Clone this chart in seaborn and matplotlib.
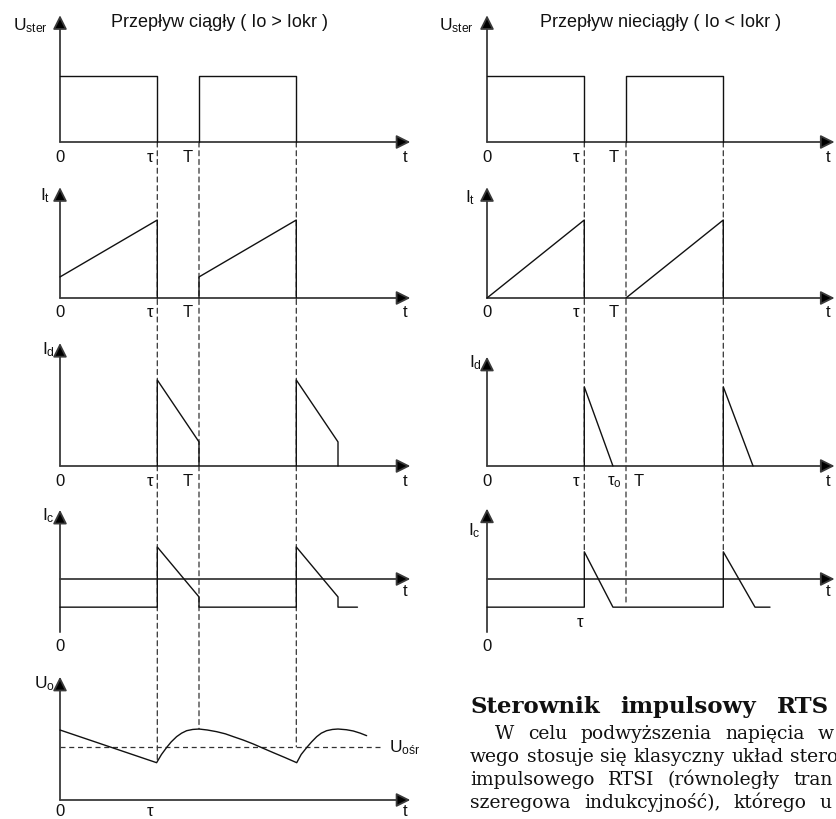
import numpy as np
import pandas as pd
import matplotlib
matplotlib.use("Agg")
import matplotlib.pyplot as plt
import seaborn as sns
from matplotlib.patches import ConnectionPatch

sns.set_theme(style="white")
plt.rcParams['font.family'] = ['Liberation Sans', 'DejaVu Sans']
plt.rcParams['mathtext.fontset'] = 'custom'
plt.rcParams['mathtext.rm'] = 'Liberation Sans'
plt.rcParams['mathtext.it'] = 'Liberation Sans'

# ---------------- data (time in units of T, values relative) ----------------
TAU = 0.7
PER = 1.0
TAU_O = 0.906          # end of diode current (discontinuous)

uster_t = [[0, 0.7, 0.7], [1.0, 1.0, 1.7, 1.7]]
uster_v = [[1, 1, 0], [0, 1, 1, 0]]

it_cont_t = [[0, 0.7, 0.7], [1.0, 1.0, 1.7, 1.7]]
it_cont_v = [[0.27, 1, 0], [0, 0.27, 1, 0]]
it_disc_t = [[0, 0.7, 0.7], [1.0, 1.7, 1.7]]
it_disc_v = [[0, 1, 0], [0, 1, 0]]

id_cont_t = [[0.7, 0.7, 1.0, 1.0], [1.7, 1.7, 2.0, 2.0]]
id_cont_v = [[0, 1, 0.28, 0], [0, 1, 0.28, 0]]
id_disc_t = [[0.7, 0.7, 0.906], [1.7, 1.7, 1.914]]
id_disc_v = [[0, 0.92, 0], [0, 0.92, 0]]

ic_cont_t = [0, 0.7, 0.7, 1.0, 1.0, 1.7, 1.7, 2.0, 2.0, 2.14]
ic_cont_v = [-0.88, -0.88, 1, -0.56, -0.88, -0.88, 1, -0.56, -0.88, -0.88]
ic_disc_t = [0, 0.7, 0.7, 0.906, 1.7, 1.7, 1.928, 2.036]
ic_disc_v = [-0.88, -0.88, 0.85, -0.88, -0.88, 0.85, -0.88, -0.88]

uo_t = [0, 0.695, 0.73, 0.767, 0.80, 0.839, 0.875, 0.911, 0.955, 1.0,
        1.06, 1.127, 1.19, 1.247, 1.32, 1.391, 1.46, 1.535, 1.62, 1.703,
        1.735, 1.775, 1.81, 1.847, 1.88, 1.918, 1.96, 2.0, 2.06, 2.11, 2.16, 2.206]
uo_v = [1.0, 0.533, 0.65, 0.75, 0.83, 0.905, 0.955, 0.99, 1.008, 1.014,
        1.0, 0.976, 0.945, 0.905, 0.855, 0.8, 0.74, 0.676, 0.605, 0.533,
        0.65, 0.75, 0.83, 0.905, 0.955, 0.99, 1.008, 1.014, 1.004, 0.986, 0.955, 0.919]
uo_avg = 0.76
uo_avg_end = 2.32

title_left = "Przepływ ciągły ( Io > Iokr )"
title_right = "Przepływ nieciągły ( Io < Iokr )"

head_words = ["Sterownik", "impulsowy", "RTS"]
body_lines = [
    ["W", "celu", "podwyższenia", "napięcia", "w"],
    ["wego", "stosuje", "się", "klasyczny", "układ", "stero"],
    ["impulsowego", "RTSI", "(równoległy", "tran"],
    ["szeregowa", "indukcyjność),", "którego", "u"],
]

# ---------------- layout (pixels) ----------------
W, H = 837, 819
PT = 139.0   # pixels per period T
AX_C = '#3a3a3a'
LN_C = '#111111'
DS_C = '#333333'
DASH = (0, (4, 3))

fig = plt.figure(figsize=(W / 100, H / 100), dpi=100)
fig.patch.set_facecolor('white')


def make_panel(x0, base, top, bottom, scale, xmin, xmax):
    l = x0 + xmin * PT
    r = x0 + xmax * PT
    ax = fig.add_axes([l / W, 1 - bottom / H, (r - l) / W, (bottom - top) / H])
    ax.set_xlim(xmin, xmax)
    ax.set_ylim((base - bottom) / scale, (base - top) / scale)
    ax.set_axis_off()
    return ax


ARW = dict(arrowstyle='-|>,head_length=0.6,head_width=0.3', color=AX_C, lw=1.3,
           shrinkA=0, shrinkB=0, mutation_scale=14, fc='black', ec=AX_C)


def axes_arrows(ax, ybot, ytop, xtip):
    ax.annotate('', xy=(0, ytop), xytext=(0, ybot), arrowprops=ARW, annotation_clip=False)
    ax.annotate('', xy=(xtip, 0), xytext=(0, 0), arrowprops=ARW, annotation_clip=False)


def lab(ax, s, x, y, dx, dy, ha='center', fs=12):
    ax.annotate(s, xy=(x, y), xytext=(dx, dy), textcoords='offset pixels',
                ha=ha, va='center', fontsize=fs, color='#111111', annotation_clip=False)


def wave(ax, ts, vs):
    df = pd.DataFrame({'t': ts, 'v': vs})
    sns.lineplot(data=df, x='t', y='v', sort=False, estimator=None, ax=ax,
                 color=LN_C, lw=1.0, zorder=3)


def vdash(axA, yA, axB, yB, x):
    con = ConnectionPatch(xyA=(x, yA), coordsA=axA.transData, xyB=(x, yB), coordsB=axB.transData,
                          color=DS_C, lw=0.9, linestyle=DASH, shrinkA=0, shrinkB=0, zorder=0)
    fig.add_artist(con)


columns = [
    dict(x0=60, xmin=-0.43, xmax=2.6, xtip=2.52, cont=True,
         tips=[1.92, 1.42, 1.43, 2.16, 1.76]),
    dict(x0=487, xmin=-0.35, xmax=2.515, xtip=2.50, cont=False,
         tips=[1.92, 1.42, 1.27, 2.20, None]),
]

for col in columns:
    x0, xmin, xmax, xt, cont = col['x0'], col['xmin'], col['xmax'], col['xtip'], col['cont']
    tips = col['tips']
    a1 = make_panel(x0, 142, 5, 165, 66, xmin, xmax)
    a2 = make_panel(x0, 298, 175, 320, 78, xmin, xmax)
    a3 = make_panel(x0, 466, 330, 490, 86, xmin, xmax)
    a4 = make_panel(x0, 579, 500, 655, 32, xmin, xmax)

    axes_arrows(a1, 0, tips[0], xt)
    for ts, vs in zip(uster_t, uster_v):
        wave(a1, ts, vs)
    axes_arrows(a2, 0, tips[1], xt)
    for ts, vs in zip(it_cont_t if cont else it_disc_t, it_cont_v if cont else it_disc_v):
        wave(a2, ts, vs)
    axes_arrows(a3, 0, tips[2], xt)
    for ts, vs in zip(id_cont_t if cont else id_disc_t, id_cont_v if cont else id_disc_v):
        wave(a3, ts, vs)
    axes_arrows(a4, -1.66, tips[3], xt)
    wave(a4, ic_cont_t if cont else ic_disc_t, ic_cont_v if cont else ic_disc_v)

    for a in (a1, a2, a3, a4):
        a.set_xlim(xmin, xmax)
        a.set_axis_off()
    a1.set_ylim((142 - 165) / 66, (142 - 5) / 66)
    a2.set_ylim((298 - 320) / 78, (298 - 175) / 78)
    a3.set_ylim((466 - 490) / 86, (466 - 330) / 86)
    a4.set_ylim((579 - 655) / 32, (579 - 500) / 32)

    if cont:
        a5 = make_panel(x0, 800, 665, 819, 70, xmin, xmax)
        axes_arrows(a5, 0, tips[4], xt)
        wave(a5, uo_t, uo_v)
        sns.lineplot(x=[0, uo_avg_end], y=[uo_avg, uo_avg], ax=a5, color=DS_C,
                     lw=0.9, linestyle=DASH, zorder=2)
        a5.set_xlim(xmin, xmax)
        a5.set_ylim((800 - 819) / 70, (800 - 665) / 70)
        a5.set_axis_off()
        vdash(a1, 0, a5, uo_v[1], TAU)
        vdash(a1, 0, a5, uo_v[9], PER)
        vdash(a1, 0, a5, uo_avg, PER + TAU)
        lab(a1, r'$\mathregular{U_{ster}}$', 0, tips[0], -12, -10, ha='right', fs=12.5)
        lab(a2, r'$\mathregular{I_{t}}$', 0, tips[1], -10, -8, ha='right', fs=12.5)
        lab(a3, r'$\mathregular{I_{d}}$', 0, tips[2], -5, -7, ha='right', fs=12.5)
        lab(a4, r'$\mathregular{I_{c}}$', 0, tips[3], -5, -6, ha='right', fs=12.5)
        lab(a5, r'$\mathregular{U_{o}}$', 0, tips[4], -5, -7, ha='right', fs=12.5)
        for a in (a1, a2, a3):
            lab(a, '0', 0, 0, 0, -15)
            lab(a, 'τ', TAU, 0, -7, -15)
            lab(a, 'T', PER, 0, -11, -15)
            lab(a, 't', xt, 0, -5, -15)
        lab(a4, '0', 0, -1.66, 0, -14)
        lab(a4, 't', xt, 0, -5, -13)
        lab(a5, '0', 0, 0, 0, -12)
        lab(a5, 'τ', TAU, 0, -7, -12)
        lab(a5, 't', xt, 0, -5, -12)
        lab(a5, r'$\mathregular{U_{ośr}}$', uo_avg_end, uo_avg, 7, -1, ha='left', fs=12.5)
        lab(a1, title_left, 1.15, 1.92, 0, -7, fs=13)
    else:
        vdash(a1, 0, a4, 0.85, TAU)
        vdash(a1, 0, a4, -0.75, PER)
        vdash(a1, 0, a4, 0.85, PER + TAU)
        lab(a1, r'$\mathregular{U_{ster}}$', 0, tips[0], -13, -10, ha='right', fs=12.5)
        lab(a2, r'$\mathregular{I_{t}}$', 0, tips[1], -12, -10, ha='right', fs=12.5)
        lab(a3, r'$\mathregular{I_{d}}$', 0, tips[2], -5, -6, ha='right', fs=12.5)
        lab(a4, r'$\mathregular{I_{c}}$', 0, tips[3], -6, -22, ha='right', fs=12.5)
        for a in (a1, a2):
            lab(a, '0', 0, 0, 0, -15)
            lab(a, 'τ', TAU, 0, -8, -15)
            lab(a, 'T', PER, 0, -12, -15)
            lab(a, 't', xt, 0, -6, -15)
        lab(a3, '0', 0, 0, 0, -15)
        lab(a3, 'τ', TAU, 0, -8, -15)
        lab(a3, r'$\mathregular{τ_{o}}$', TAU_O, 0, 1, -16)
        lab(a3, 'T', PER, 0, 13, -15)
        lab(a3, 't', xt, 0, -6, -15)
        lab(a4, '0', 0, -1.66, 0, -14)
        lab(a4, 'τ', TAU, -0.88, -4, -15)
        lab(a4, 't', xt, 0, -6, -13)
        lab(a1, title_right, 1.25, 1.92, 0, -7, fs=13)

# ---------------- text block (bottom right), justified ----------------
renderer = fig.canvas.get_renderer()


def justify(words, x_start, x_last, y, **kw):
    texts = [fig.text(0, 1 - y / H, w, va='baseline', color='#111111', **kw) for w in words]
    widths = [t.get_window_extent(renderer).width for t in texts]
    gap = (x_last - x_start - sum(widths[:-1])) / max(len(words) - 1, 1)
    x = x_start
    for t, w in zip(texts, widths):
        t.set_x(x / W)
        x += w + gap


justify(head_words, 470, 777, 713, fontsize=16.5, fontweight='bold', family='DejaVu Serif')
body_start = [495, 470, 470, 470]
body_last = [818, 790, 793, 820]
body_y = [739, 762, 785, 808]
for words, xs, xl, y in zip(body_lines, body_start, body_last, body_y):
    justify(words, xs, xl, y, fontsize=13.5, family='DejaVu Serif')

fig.savefig('out.png', dpi=100, facecolor='white')
